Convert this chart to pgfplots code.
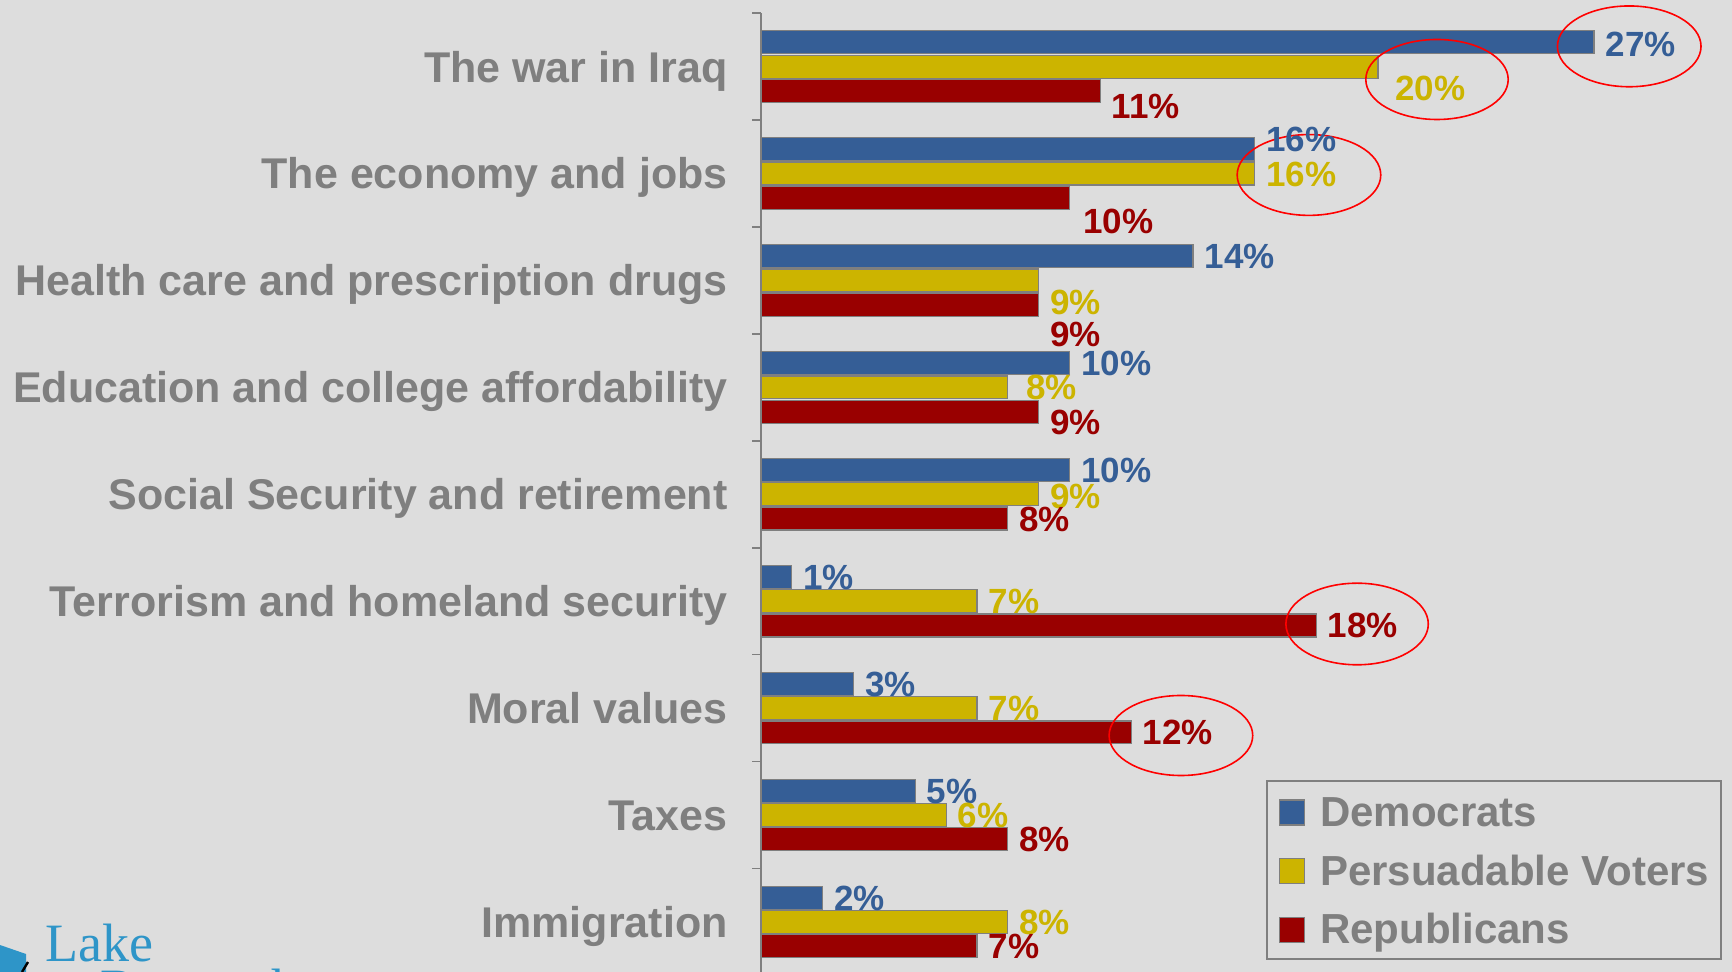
\documentclass[border=0pt]{standalone}
\usepackage{pgfplots}
\usepackage{pgfplotstable}
\pgfplotsset{compat=1.18}
\usepackage{fontspec}
\setmainfont{Liberation Sans}
\newfontfamily\logofont{Liberation Serif}

\definecolor{bgray}{HTML}{DDDDDD}
\definecolor{tgray}{HTML}{7F7F7F}
\definecolor{dem}{HTML}{355E96}
\definecolor{pers}{HTML}{CCB400}
\definecolor{rep}{HTML}{990000}
\definecolor{logo}{HTML}{2E95C8}

% y = category (0 = top), val = percent, dx/dy = label shift in pt
\pgfplotstableread{
y val dx dy
0 27 5.5 -0.8
1 16 5.5 5.0
2 14 5.5 0
3 10 5.5 0
4 10 5.5 0
5 1 5.5 0
6 3 5.5 0
7 5 5.5 0
8 2 5.5 0
}\demdata

\pgfplotstableread{
y val dx dy
0 20 8.3 -10.5
1 16 5.5 0
2 9 5.5 -11
3 8 9 0
4 9 5.5 -0.7
5 7 5.5 0
6 7 5.5 0
7 6 5.5 0
8 8 5.5 0
}\persdata

\pgfplotstableread{
y val dx dy
0 11 5.5 -7.5
1 10 6.5 -11.5
2 9 5.5 -14.6
3 9 5.5 -5
4 8 5.5 0
5 18 5.5 0
6 12 5.5 0
7 8 5.5 0
8 7 5.5 0
}\repdata

\begin{document}
\begin{tikzpicture}
\path[use as bounding box, fill=bgray] (0,0) rectangle (866pt,-486pt);

% logo fragment bottom left
\fill[logo] (0,-472.5pt) -- (13pt,-477pt) -- (13pt,-486pt) -- (0,-486pt) -- cycle;
\draw[black, line width=1.2pt] (11pt,-486pt) -- (14pt,-481pt);
\node[anchor=base west, inner sep=0pt, text=logo, font=\logofont\fontsize{27}{27}\selectfont] at (22.5pt,-480.5pt) {Lake};
\node[anchor=base west, inner sep=0pt, text=logo, font=\logofont\fontsize{27}{27}\selectfont] at (50pt,-503pt) {Research};

\begin{axis}[
    at={(380.5pt,-6.6pt)}, anchor=north west,
    scale only axis,
    width=462.8pt, height=481.1pt,
    xmin=0, xmax=30,
    ymin=-0.5, ymax=8.5,
    y dir=reverse,
    clip=false,
    xbar,
    bar width=0.215,
    axis x line=none,
    axis y line*=left,
    axis line style={draw=tgray, line width=0.8pt},
    ytick={0,1,2,3,4,5,6,7,8},
    yticklabels={The war in Iraq, The economy and jobs, Health care and prescription drugs,
        Education and college affordability, Social Security and retirement,
        Terrorism and homeland security, Moral values, Taxes, Immigration},
    major tick length=0pt,
    yticklabel style={font=\fontsize{21.5}{25}\selectfont\bfseries, text=tgray,
        inner sep=0pt, xshift=-16.5pt, text height=15.4pt, text depth=0pt},
    extra y ticks={-0.5,0.5,1.5,2.5,3.5,4.5,5.5,6.5,7.5,8.5},
    extra y tick labels={},
    extra y tick style={major tick length=4.5pt, tick align=outside,
        tick style={draw=tgray, line width=0.8pt}},
    /pgf/number format/assume math mode=true,
    nodes near coords={\pgfmathprintnumber{\pgfplotspointmeta}\%},
    visualization depends on={\thisrow{dx} \as \labdx},
    visualization depends on={\thisrow{dy} \as \labdy},
    nodes near coords style={anchor=west, inner sep=0pt,
        xshift=\labdx pt, yshift=\labdy pt,
        font=\fontsize{17.5}{20}\selectfont\bfseries,
        text height=12.5pt, text depth=0pt},
    legend style={at={(0.5456,0.2031)}, anchor=north west,
        draw=tgray, line width=0.8pt, fill=none,
        inner xsep=6pt, inner ysep=7.5pt,
        row sep=13.9pt, column sep=7.5pt,
        nodes={inner sep=0pt, text height=15.4pt, text depth=0pt},
        font=\fontsize{21}{25}\selectfont\bfseries, text=tgray},
    legend cell align=left,
]
\addplot+[fill=dem, draw=tgray, line width=0.6pt, bar shift=-0.227,
    nodes near coords style={text=dem},
    legend image code/.code={\draw[fill=dem, draw=tgray, line width=0.6pt] (0pt,-6.9pt) rectangle (12.5pt,5.6pt);}]
    table[x=val, y=y] {\demdata};
\addlegendentry{Democrats}
\addplot+[fill=pers, draw=tgray, line width=0.6pt, bar shift=0,
    nodes near coords style={text=pers},
    legend image code/.code={\draw[fill=pers, draw=tgray, line width=0.6pt] (0pt,-6.9pt) rectangle (12.5pt,5.6pt);}]
    table[x=val, y=y] {\persdata};
\addlegendentry{Persuadable Voters}
\addplot+[fill=rep, draw=tgray, line width=0.6pt, bar shift=0.227,
    nodes near coords style={text=rep},
    legend image code/.code={\draw[fill=rep, draw=tgray, line width=0.6pt] (0pt,-6.9pt) rectangle (12.5pt,5.6pt);}]
    table[x=val, y=y] {\repdata};
\addlegendentry{Republicans}

% red hand-drawn highlight ellipses
\draw[red, line width=0.8pt] (axis cs:28.14,-0.19) ellipse [x radius=35.9pt, y radius=20.2pt];
\draw[red, line width=0.8pt] (axis cs:21.91,0.12) ellipse [x radius=35.6pt, y radius=20pt];
\draw[red, line width=0.8pt] (axis cs:17.76,1.013) ellipse [x radius=35.9pt, y radius=20.2pt];
\draw[red, line width=0.8pt] (axis cs:19.32,5.213) ellipse [x radius=35.6pt, y radius=20.4pt];
\draw[red, line width=0.8pt] (axis cs:13.61,6.256) ellipse [x radius=35.9pt, y radius=20pt];
\end{axis}
\end{tikzpicture}
\end{document}
